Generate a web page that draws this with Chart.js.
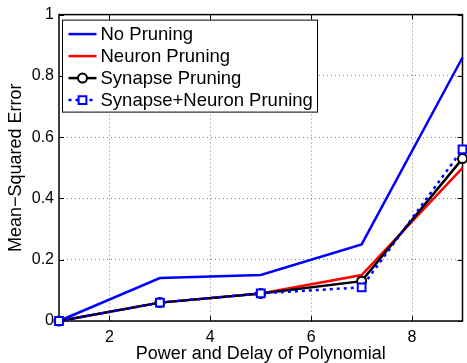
<!DOCTYPE html>
<html>
<head>
<meta charset="utf-8">
<script src="https://cdn.jsdelivr.net/npm/chart.js@4/dist/chart.umd.min.js"></script>
<style>
  html, body { margin: 0; padding: 0; background: #fff; overflow: hidden; }
  #wrap { width: 470px; height: 363px; }
</style>
</head>
<body>
<div id="wrap"><canvas id="mseChart" width="470" height="363"></canvas></div>
<script>
// polynomial power/delay on the x axis
const xValues = [1, 3, 5, 7, 9];
const noPruning = [0, 0.14, 0.15, 0.25, 0.86];
const neuronPruning = [0, 0.06, 0.09, 0.15, 0.50];
const synapsePruning = [0, 0.06, 0.09, 0.13, 0.53];
const synapseNeuronPruning = [0, 0.06, 0.09, 0.11, 0.56];

const xTicks = [2, 4, 6, 8];
const yTicks = [0, 0.2, 0.4, 0.6, 0.8, 1];
const seriesNames = ['No Pruning', 'Neuron Pruning', 'Synapse Pruning', 'Synapse+Neuron Pruning'];

const toPoints = vals => vals.map((v, i) => ({ x: xValues[i], y: v }));
const FONT = 'Liberation Sans, Arial, Helvetica, sans-serif';

// matlab style box with inward ticks
const axesBox = {
    id: 'axesBox',
    beforeDatasetsDraw(chart) {
        const { ctx, chartArea: a, scales: { x, y } } = chart;
        ctx.save();
        ctx.strokeStyle = '#000';
        ctx.lineWidth = 1;
        ctx.beginPath();
        x.ticks.forEach(t => {
            const px = Math.round(x.getPixelForValue(t.value)) + 0.5;
            ctx.moveTo(px, a.bottom); ctx.lineTo(px, a.bottom - 5);
            ctx.moveTo(px, a.top); ctx.lineTo(px, a.top + 5);
        });
        y.ticks.forEach(t => {
            const py = Math.round(y.getPixelForValue(t.value)) + 0.5;
            ctx.moveTo(a.left, py); ctx.lineTo(a.left + 5, py);
            ctx.moveTo(a.right, py); ctx.lineTo(a.right - 5, py);
        });
        ctx.stroke();
        ctx.lineWidth = 1.5;
        ctx.strokeRect(a.left, a.top, a.right - a.left, a.bottom - a.top);
        ctx.restore();
    }
};

// legend box in the upper left corner of the axes
const boxLegend = {
    id: 'boxLegend',
    afterDraw(chart) {
        const { ctx, chartArea: a } = chart;
        const left = a.left + 3.5, top = a.top + 5.5;
        const w = 255, h = 92, rowH = 22;
        ctx.save();
        ctx.fillStyle = '#fff';
        ctx.fillRect(left, top, w, h);
        ctx.strokeStyle = '#000';
        ctx.lineWidth = 1;
        ctx.strokeRect(left, top, w, h);
        ctx.font = '18.5px ' + FONT;
        ctx.textBaseline = 'middle';
        chart.data.datasets.forEach((ds, i) => {
            const cy = top + 14 + i * rowH;
            const x0 = left + 6, x1 = left + 34, cx = (x0 + x1) / 2;
            ctx.strokeStyle = ds.borderColor;
            ctx.lineWidth = ds.borderWidth;
            ctx.setLineDash(ds.borderDash || []);
            ctx.beginPath();
            ctx.moveTo(x0, cy);
            ctx.lineTo(x1, cy);
            ctx.stroke();
            ctx.setLineDash([]);
            if (ds.pointRadius > 0) {
                ctx.fillStyle = '#fff';
                ctx.strokeStyle = ds.borderColor;
                ctx.lineWidth = ds.pointBorderWidth;
                ctx.beginPath();
                if (ds.pointStyle === 'circle') {
                    ctx.arc(cx, cy, ds.pointRadius, 0, Math.PI * 2);
                } else {
                    const s = ds.pointRadius * Math.SQRT1_2;
                    ctx.rect(cx - s, cy - s, 2 * s, 2 * s);
                }
                ctx.fill();
                ctx.stroke();
            }
            ctx.fillStyle = '#000';
            ctx.fillText(seriesNames[i], left + 38, cy + 1);
        });
        ctx.restore();
    }
};

const ctx = document.getElementById('mseChart');
new Chart(ctx, {
    type: 'line',
    data: {
        datasets: [{
            label: seriesNames[0],
            data: toPoints(noPruning),
            borderColor: '#0000ff',
            borderWidth: 2.5,
            pointRadius: 0,
            order: 4
        }, {
            label: seriesNames[1],
            data: toPoints(neuronPruning),
            borderColor: '#ff0000',
            borderWidth: 2.5,
            pointRadius: 0,
            order: 3
        }, {
            label: seriesNames[2],
            data: toPoints(synapsePruning),
            borderColor: '#000000',
            borderWidth: 2.5,
            pointStyle: 'circle',
            pointRadius: 4.5,
            pointBorderWidth: 2,
            pointBackgroundColor: '#fff',
            pointBorderColor: '#000000',
            order: 2
        }, {
            label: seriesNames[3],
            data: toPoints(synapseNeuronPruning),
            borderColor: '#0000ff',
            borderWidth: 2.5,
            borderDash: [3, 4],
            pointStyle: 'rect',
            pointRadius: 5.5,
            pointBorderWidth: 2,
            pointBackgroundColor: '#fff',
            pointBorderColor: '#0000ff',
            order: 1
        }].map(ds => Object.assign({ clip: false, tension: 0, fill: false }, ds))
    },
    options: {
        responsive: false,
        animation: false,
        devicePixelRatio: 1,
        layout: { padding: { top: 14, right: 1, left: 0, bottom: 0 } },
        plugins: {
            legend: { display: false },
            tooltip: { enabled: false }
        },
        scales: {
            x: {
                type: 'linear',
                min: 1,
                max: 9,
                afterBuildTicks: scale => { scale.ticks = xTicks.map(v => ({ value: v })); },
                afterFit: scale => { scale.height = 42; },
                grid: { color: '#808080', drawTicks: false, lineWidth: 1 },
                border: { display: false, dash: [1, 3] },
                ticks: {
                    color: '#000',
                    padding: 7,
                    maxRotation: 0,
                    font: { family: FONT, size: 16 }
                },
                title: {
                    display: true,
                    text: 'Power and Delay of Polynomial',
                    color: '#000',
                    font: { family: FONT, size: 18, lineHeight: 1 },
                    padding: { top: 0, bottom: 0 }
                }
            },
            y: {
                min: 0,
                max: 1,
                afterBuildTicks: scale => { scale.ticks = yTicks.map(v => ({ value: v })); },
                afterFit: scale => { scale.width = 59; },
                grid: { color: '#808080', drawTicks: false, lineWidth: 1 },
                border: { display: false, dash: [1, 3] },
                ticks: {
                    color: '#000',
                    padding: 5,
                    font: { family: FONT, size: 16 },
                    callback: v => String(Math.round(v * 10) / 10)
                },
                title: {
                    display: true,
                    text: 'Mean\u2212Squared Error',
                    color: '#000',
                    font: { family: FONT, size: 18, lineHeight: 1 },
                    padding: { top: 7, bottom: 0 }
                }
            }
        }
    },
    plugins: [axesBox, boxLegend]
});
</script>
</body>
</html>
